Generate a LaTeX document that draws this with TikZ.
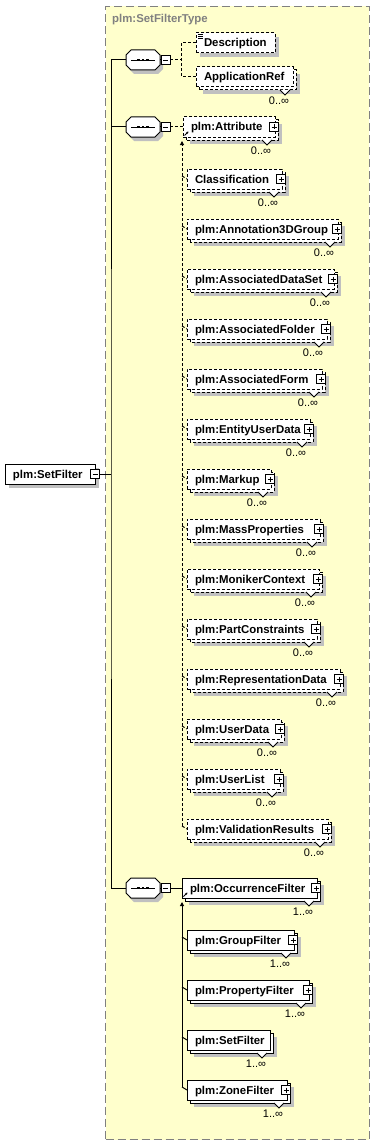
\documentclass[tikz,border=0pt]{standalone}
\usepackage{fontspec}
\setmainfont{Liberation Sans}
\usetikzlibrary{arrows.meta}
\pgfdeclarelayer{bg}
\pgfdeclarelayer{shad}
\pgfdeclarelayer{back}
\pgfsetlayers{bg,shad,back,main}
\definecolor{paneyellow}{HTML}{FFFFCC}
\definecolor{shadowc}{HTML}{C0C0C0}
\definecolor{titlegray}{HTML}{808080}
\tikzset{
  ebox/.style={draw=black, line width=1pt, fill=white, minimum height=20pt, inner sep=0pt, outer sep=0pt,
    font=\fontsize{11.4}{13}\selectfont\bfseries, text height=8pt, text depth=0pt},
  optline/.style={dash pattern=on 3pt off 2pt},
  reqline/.style={solid},
  conn/.style={line width=1pt},
  optconn/.style={line width=1pt, dash pattern=on 3pt off 2pt},
  pmbox/.style={draw=black, line width=0.8pt, fill=white, minimum size=9pt, inner sep=0pt, outer sep=0pt},
  minusbox/.style={pmbox, path picture={\draw[line width=0.8pt] ([xshift=2pt]path picture bounding box.west) -- ([xshift=-2pt]path picture bounding box.east);}},
  plusbox/.style={pmbox, path picture={\draw[line width=0.8pt] ([xshift=2pt]path picture bounding box.west) -- ([xshift=-2pt]path picture bounding box.east) ([yshift=-2pt]path picture bounding box.north) -- ([yshift=2pt]path picture bounding box.south);}},
  mult/.style={inner sep=0pt, font=\fontsize{11}{12}\selectfont, text height=7.5pt, text depth=0pt},
  refarrow/.style={line width=0.8pt, -{Stealth[length=2.5pt,width=2.5pt]}},
  substarrow/.style={-{Triangle[length=4pt,width=4pt]}}
}
% #1 name #2 left #3 right #4 y #5 text #6 line style #7 stacked #8 plus(1)/minus(2) #9 multiplicity
\newcommand\xsdelem[9]{%
  \pgfmathsetmacro\ew{#3-#2}%
  \pgfmathsetmacro\ecx{(#2+#3)/2}%
  \node[ebox,#6,minimum width=\ew pt] (#1) at (\ecx,#4) {\makebox[\ew pt][l]{\hspace{8pt}#5}};%
  \ifnum#7=1
    \begin{pgfonlayer}{shad}\fill[shadowc] ([shift={(7,7)}]#1.south west) rectangle ([shift={(7,7)}]#1.north east);\end{pgfonlayer}%
    \begin{pgfonlayer}{back}\draw[line width=1pt,#6,fill=white] ([shift={(3,3)}]#1.south west) rectangle ([shift={(3,3)}]#1.north east);\end{pgfonlayer}%
    \draw[line width=0.8pt, fill=white] ([shift={(-13,3)}]#1.south east) -- ++(5,5) -- ++(5,-5);%
  \else
    \begin{pgfonlayer}{shad}\fill[shadowc] ([shift={(4,4)}]#1.south west) rectangle ([shift={(4,4)}]#1.north east);\end{pgfonlayer}%
  \fi
  \ifnum#8=1 \node[plusbox] (#1-pm) at ([xshift=-1pt]#1.east) {};\fi
  \ifnum#8=2 \node[minusbox] (#1-pm) at (#1.east) {};\fi
  \if\relax\detokenize{#9}\relax\else\node[mult] (#1-mult) at ([shift={(-14,13.5)}]#1.south east) {#9};\fi
}
% sequence compositor: #1 name #2 y
\newcommand\seqcomp[2]{%
  \node[minimum width=34pt, minimum height=20pt, inner sep=0pt, outer sep=0pt] (#1) at (143,#2) {};
  \begin{pgfonlayer}{shad}
  \fill[shadowc, shift={(3,4)}] (131,#2-10) -- (155,#2-10) -- (160,#2-5) -- (160,#2+5) -- (155,#2+10) -- (131,#2+10) -- (126,#2+5) -- (126,#2-5) -- cycle;
  \end{pgfonlayer}
  \draw[line width=1pt, fill=white] (131,#2-10) -- (155,#2-10) -- (160,#2-5) -- (160,#2+5) -- (155,#2+10) -- (131,#2+10) -- (126,#2+5) -- (126,#2-5) -- cycle;
  \draw[line width=0.7pt] (131,#2) -- (155,#2);
  \foreach \dx in {138.8,143,147.2} \fill (\dx-1.4,#2-1.4) rectangle (\dx+1.4,#2+1.4);
  \node[minusbox] (#1-pm) at (165.5,#2) {};
  \draw[conn] (#1.east) -- (#1-pm.west);
}
\begin{document}
\begin{tikzpicture}[x=1pt,y=-1pt]
\useasboundingbox (0,0) rectangle (374,1145);
\begin{pgfonlayer}{bg}
\node[draw=titlegray, line width=1pt, dash pattern=on 8pt off 4pt, fill=paneyellow, minimum width=263.5pt, minimum height=1133pt, inner sep=0pt, anchor=north west] (pane) at (105,6) {};
\end{pgfonlayer}
\node[anchor=base west, inner sep=0pt, text=titlegray, font=\fontsize{11.4}{13}\selectfont\bfseries] (title) at (112,23) {plm:SetFilterType};

% root
\xsdelem{root}{5}{95}{474}{plm:SetFilter}{reqline}{0}{2}{}

% compositors
\seqcomp{seq1}{60}
\seqcomp{seq2}{127}
\seqcomp{seq3}{888}

\coordinate (j0) at (111,474);
\draw[conn] (root-pm.east) -- (j0);
\draw[conn] (seq1.west) -| (j0) |- (seq3.west);
\draw[conn] (seq2.west) -- (seq2.west -| j0);

% group 1
\xsdelem{desc}{196}{275}{43}{Description}{optline}{0}{0}{}
\foreach \dy in {1.5,3.5,5.5} \draw[line width=0.6pt] ([shift={(2,\dy)}]desc.north west) -- ++(5,0);
\xsdelem{appref}{196}{293}{77}{ApplicationRef}{optline}{1}{0}{0..∞}
\coordinate (g1) at (181.5,60);
\draw[optconn] (seq1-pm.east) -- (g1);
\draw[optconn] (desc.west) -| (g1) |- (appref.west);

% group 2
\xsdelem{attr}{183}{275}{127}{plm:Attribute}{optline}{1}{1}{0..∞}
\xsdelem{class}{187}{282}{179}{Classification}{optline}{1}{1}{0..∞}
\xsdelem{annot}{187}{338}{229}{plm:Annotation3DGroup}{optline}{1}{1}{0..∞}
\xsdelem{adset}{187}{334}{279}{plm:AssociatedDataSet}{optline}{1}{1}{0..∞}
\xsdelem{afold}{187}{327}{329}{plm:AssociatedFolder}{optline}{1}{1}{0..∞}
\xsdelem{aform}{187}{322}{379}{plm:AssociatedForm}{optline}{1}{1}{0..∞}
\xsdelem{eud}{187}{310}{429}{plm:EntityUserData}{optline}{1}{1}{0..∞}
\xsdelem{markup}{187}{271}{479}{plm:Markup}{optline}{1}{1}{0..∞}
\xsdelem{massp}{187}{320}{529}{plm:MassProperties}{optline}{1}{1}{0..∞}
\xsdelem{monik}{187}{319}{579}{plm:MonikerContext}{optline}{1}{1}{0..∞}
\xsdelem{partc}{187}{317}{629}{plm:PartConstraints}{optline}{1}{1}{0..∞}
\xsdelem{repd}{187}{340}{679}{plm:RepresentationData}{optline}{1}{1}{0..∞}
\xsdelem{userd}{187}{281}{729}{plm:UserData}{optline}{1}{1}{0..∞}
\xsdelem{userl}{187}{280}{779}{plm:UserList}{optline}{1}{1}{0..∞}
\xsdelem{valres}{187}{328}{829}{plm:ValidationResults}{optline}{1}{1}{0..∞}
\draw[refarrow] ([shift={(1.5,-1.5)}]attr.south west) -- ++(4,-4);
\draw[optconn] (seq2-pm.east) -- (attr.west);
\coordinate (g2top) at (182,141);
\coordinate (g2bot) at (182,826);
\draw[optconn, substarrow] (g2bot) -- (g2top);
\foreach \n in {class,annot,adset,afold,aform,eud,markup,massp,monik,partc,repd,userd,userl,valres}
  \draw[optconn] ([shift={(-5,-3)}]\n.west) -- (\n.west);

% group 3
\xsdelem{occ}{182}{317}{888}{plm:OccurrenceFilter}{reqline}{1}{1}{1..∞}
\xsdelem{grpf}{187}{294}{940}{plm:GroupFilter}{reqline}{1}{1}{1..∞}
\xsdelem{propf}{187}{309}{990}{plm:PropertyFilter}{reqline}{1}{1}{1..∞}
\xsdelem{setf}{187}{270}{1040}{plm:SetFilter}{reqline}{1}{0}{1..∞}
\xsdelem{zonef}{187}{287}{1090}{plm:ZoneFilter}{reqline}{1}{1}{1..∞}
\draw[refarrow] ([shift={(1.5,-1.5)}]occ.south west) -- ++(4,-4);
\draw[conn] (seq3-pm.east) -- (occ.west);
\coordinate (g3top) at (182,902);
\coordinate (g3bot) at (182,1087);
\draw[conn, substarrow] (g3bot) -- (g3top);
\foreach \n in {grpf,propf,setf,zonef}
  \draw[conn] ([shift={(-5,-3)}]\n.west) -- (\n.west);
\end{tikzpicture}
\end{document}
